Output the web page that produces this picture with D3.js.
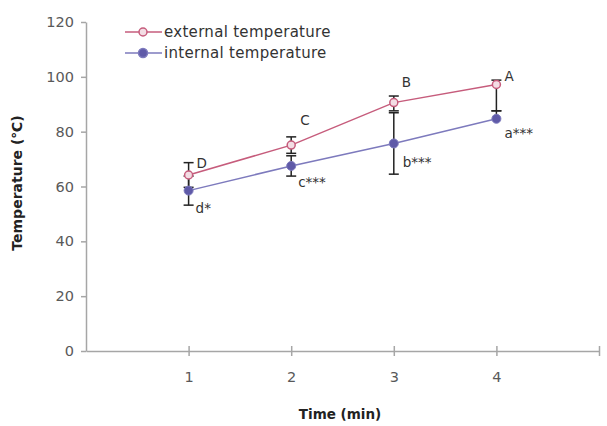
<!DOCTYPE html>
<html>
<head>
<meta charset="utf-8">
<script src="https://cdn.jsdelivr.net/npm/d3@7"></script>
<style>
  body { margin: 0; background: #fff; }
  text { font-family: "DejaVu Sans", sans-serif; }
</style>
</head>
<body>
<script>
// values
var times = [1, 2, 3, 4];
var external = [64.2, 75.1, 90.6, 97.2];
var externalUp = [4.5, 3.0, 2.4, 1.6];
var externalDown = [4.5, 3.0, 3.0, 9.6];
var internal = [58.5, 67.5, 75.7, 84.7];
var internalUp = [5.3, 3.7, 11.2, 2.9];
var internalDown = [5.3, 3.7, 11.2, 0];
var externalLetters = ["D", "C", "B", "A"];
var internalLetters = ["d*", "c***", "b***", "a***"];
var yTicks = [0, 20, 40, 60, 80, 100, 120];
var xTicks = [1, 2, 3, 4, 5];

var width = 607,
  height = 426;

var svg = d3.select("body").append("svg")
  .attr("width", width)
  .attr("height", height);

var x = d3.scaleLinear().domain([0, 5]).range([86, 599]);
var y = d3.scaleLinear().domain([0, 120]).range([351, 22]);

// y axis
svg.append("g")
  .attr("transform", "translate(86,0)")
  .call(d3.axisLeft(y).tickValues(yTicks).tickSize(5).tickSizeOuter(0).tickPadding(7));

// x axis, ticks cross the line
var xAxis = svg.append("g")
  .attr("transform", "translate(0,351)")
  .call(d3.axisBottom(x).tickValues(xTicks).tickSize(5).tickSizeOuter(0).tickPadding(16)
    .tickFormat(function(d) { return d < 5 ? d : ""; }));
xAxis.selectAll(".tick line").attr("y1", -5);

svg.selectAll(".domain, .tick line").attr("stroke", "#a6a6a6").attr("stroke-width", 1.5);
svg.selectAll(".tick text").attr("fill", "#595959").style("font-size", "14.5px");

// axis titles
svg.append("text")
  .attr("transform", "translate(22,183) rotate(-90)")
  .attr("text-anchor", "middle")
  .style("font-size", "14px")
  .style("font-weight", "bold")
  .attr("fill", "#222")
  .text("Temperature (\u2103)");

svg.append("text")
  .attr("x", 340)
  .attr("y", 419)
  .attr("text-anchor", "middle")
  .style("font-size", "13.5px")
  .style("font-weight", "bold")
  .attr("fill", "#222")
  .text("Time (min)");

var extColor = "#c65c7c",
  intColor = "#7d7abd";

var line = d3.line()
  .x(function(d, i) { return x(times[i]); })
  .y(function(d) { return y(d); });

svg.append("path")
  .datum(internal)
  .attr("d", line)
  .attr("fill", "none")
  .attr("stroke", intColor)
  .attr("stroke-width", 1.5);

svg.append("path")
  .datum(external)
  .attr("d", line)
  .attr("fill", "none")
  .attr("stroke", extColor)
  .attr("stroke-width", 1.5);

// error bars
function errorBars(values, up, down) {
  var g = svg.append("g").attr("stroke", "#222").attr("stroke-width", 1.5);
  values.forEach(function(v, i) {
    var cx = x(times[i]);
    g.append("line")
      .attr("x1", cx).attr("x2", cx)
      .attr("y1", y(v + up[i])).attr("y2", y(v - down[i]));
    if (up[i] > 0) {
      g.append("line").attr("x1", cx - 5).attr("x2", cx + 5)
        .attr("y1", y(v + up[i])).attr("y2", y(v + up[i]));
    }
    if (down[i] > 0) {
      g.append("line").attr("x1", cx - 5).attr("x2", cx + 5)
        .attr("y1", y(v - down[i])).attr("y2", y(v - down[i]));
    }
  });
}
errorBars(external, externalUp, externalDown);
errorBars(internal, internalUp, internalDown);

// markers
svg.selectAll(".int-dot")
  .data(internal)
  .enter().append("circle")
  .attr("cx", function(d, i) { return x(times[i]); })
  .attr("cy", function(d) { return y(d); })
  .attr("r", 4.5)
  .attr("fill", "#5f5aa8")
  .attr("stroke", intColor);

svg.selectAll(".ext-dot")
  .data(external)
  .enter().append("circle")
  .attr("cx", function(d, i) { return x(times[i]); })
  .attr("cy", function(d) { return y(d); })
  .attr("r", 4)
  .attr("fill", "#f3dde4")
  .attr("stroke", extColor)
  .attr("stroke-width", 1.5);

// letter placement (pixel offsets from each point)
var extDx = [8, 9, 8, 8], extDy = [-7, -20, -16, -4];
var intDx = [7, 7, 9, 8], intDy = [22, 21, 24, 19];

svg.selectAll(".ext-label")
  .data(external)
  .enter().append("text")
  .attr("x", function(d, i) { return x(times[i]) + extDx[i]; })
  .attr("y", function(d, i) { return y(d) + extDy[i]; })
  .style("font-size", "13.5px")
  .attr("fill", "#333")
  .text(function(d, i) { return externalLetters[i]; });

svg.selectAll(".int-label")
  .data(internal)
  .enter().append("text")
  .attr("x", function(d, i) { return x(times[i]) + intDx[i]; })
  .attr("y", function(d, i) { return y(d) + intDy[i]; })
  .style("font-size", "13.5px")
  .attr("fill", "#333")
  .text(function(d, i) { return internalLetters[i]; });

// legend
var legend = [
  { name: "external temperature", color: extColor, fill: "#f3dde4", r: 4 },
  { name: "internal temperature", color: intColor, fill: "#5f5aa8", r: 4.5 }
];
var lg = svg.selectAll(".legend")
  .data(legend)
  .enter().append("g")
  .attr("transform", function(d, i) { return "translate(125," + (32 + i * 21) + ")"; });
lg.append("line")
  .attr("x1", 0).attr("x2", 37)
  .attr("stroke", function(d) { return d.color; })
  .attr("stroke-width", 1.5);
lg.append("circle")
  .attr("cx", 18).attr("r", function(d) { return d.r; })
  .attr("fill", function(d) { return d.fill; })
  .attr("stroke", function(d) { return d.color; })
  .attr("stroke-width", 1.5);
lg.append("text")
  .attr("x", 39).attr("y", 5)
  .style("font-size", "15px")
  .style("letter-spacing", "0.3px")
  .attr("fill", "#333")
  .text(function(d) { return d.name; });
</script>
</body>
</html>
